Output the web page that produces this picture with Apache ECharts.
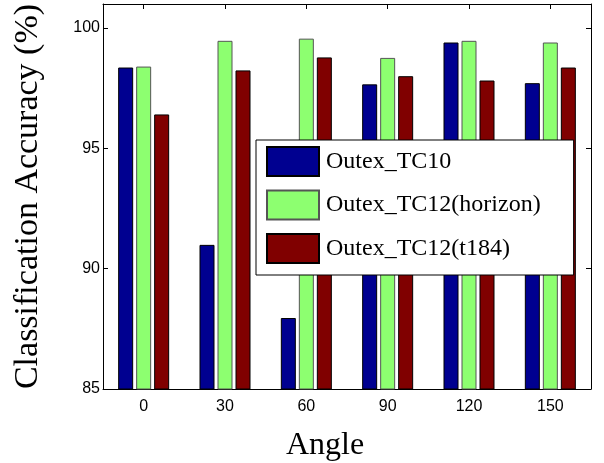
<!DOCTYPE html>
<html>
<head>
<meta charset="utf-8">
<script src="https://cdn.jsdelivr.net/npm/echarts@6/dist/echarts.min.js"></script>
<style>
  html, body { margin: 0; padding: 0; background: #fff; }
  #chart { width: 604px; height: 463px; }
</style>
</head>
<body>
<div id="chart"></div>
<script>
// angles (degrees)
const angles = ['0', '30', '60', '90', '120', '150'];
const seriesNames = ['Outex_TC10', 'Outex_TC12(horizon)', 'Outex_TC12(t184)'];
// accuracy (%)
const tc10 = [98.36, 90.99, 87.95, 97.66, 99.40, 97.71];
const tc12Horizon = [98.40, 99.47, 99.56, 98.76, 99.47, 99.40];
const tc12T184 = [96.41, 98.24, 98.78, 98.00, 97.82, 98.36];
const yTicks = [85, 90, 95, 100];

const chart = echarts.init(document.getElementById('chart'), null, { renderer: 'canvas' });

const serif = '"Liberation Serif", "Times New Roman", serif';
const sans = '"Liberation Sans", Arial, sans-serif';

function bar(name, data, color, border) {
  return {
    name: name,
    type: 'bar',
    data: data,
    barWidth: 15,
    barGap: '20%',
    itemStyle: { color: color, borderColor: border, borderWidth: 1 },
  };
}

chart.setOption({
  animation: false,
  backgroundColor: '#fff',
  grid: { left: 103, top: 4, right: 13, bottom: 74, outerBoundsMode: 'none', containLabel: false },
  legend: {
    orient: 'vertical',
    left: 256,
    top: 140,
    padding: [6, 33, 11, 10],
    itemWidth: 52,
    itemHeight: 29,
    itemGap: 12.5,
    backgroundColor: '#fff',
    borderColor: '#000',
    borderWidth: 1,
    icon: 'rect',
    textStyle: {
      fontFamily: serif,
      fontSize: 24,
      color: '#000',
      padding: [0, 0, 0, 2],
    },
    data: seriesNames,
  },
  xAxis: [
    {
      type: 'category',
      data: angles,
      name: 'Angle',
      nameLocation: 'middle',
      nameGap: 41,
      nameTextStyle: { fontFamily: serif, fontSize: 32, color: '#000', padding: [0, 44, 0, 0] },
      axisLine: { lineStyle: { color: '#000', width: 1 } },
      axisTick: { show: false },
      axisLabel: { fontFamily: sans, fontSize: 16, color: '#000', margin: 10 },
    },
    {
      type: 'category',
      data: angles,
      position: 'top',
      axisLine: { lineStyle: { color: '#000', width: 1 } },
      axisTick: { show: true, inside: true, length: 5, alignWithLabel: true, lineStyle: { color: '#000' } },
      axisLabel: { show: false },
    },
  ],
  yAxis: [
    {
      type: 'value',
      min: 85,
      max: 101,
      interval: 5,
      name: 'Classification Accuracy (%)',
      nameLocation: 'middle',
      nameGap: 58,
      nameTextStyle: { fontFamily: serif, fontSize: 34, color: '#000' },
      axisLine: { show: true, lineStyle: { color: '#000', width: 1 } },
      axisTick: { show: true, inside: true, length: 5, lineStyle: { color: '#000' } },
      axisLabel: {
        fontFamily: sans, fontSize: 16, color: '#000', margin: 3,
        formatter: v => (yTicks.indexOf(v) >= 0 ? String(v) : ''),
      },
      splitLine: { show: false },
    },
    {
      type: 'value',
      min: 85,
      max: 101,
      interval: 5,
      position: 'right',
      axisLine: { show: true, lineStyle: { color: '#000', width: 1 } },
      axisTick: { show: true, inside: true, length: 5, lineStyle: { color: '#000' } },
      axisLabel: { show: false },
      splitLine: { show: false },
    },
  ],
  series: [
    bar(seriesNames[0], tc10, '#000090', '#000'),
    bar(seriesNames[1], tc12Horizon, '#8dff70', '#555'),
    bar(seriesNames[2], tc12T184, '#800000', '#000'),
  ],
});
</script>
</body>
</html>
